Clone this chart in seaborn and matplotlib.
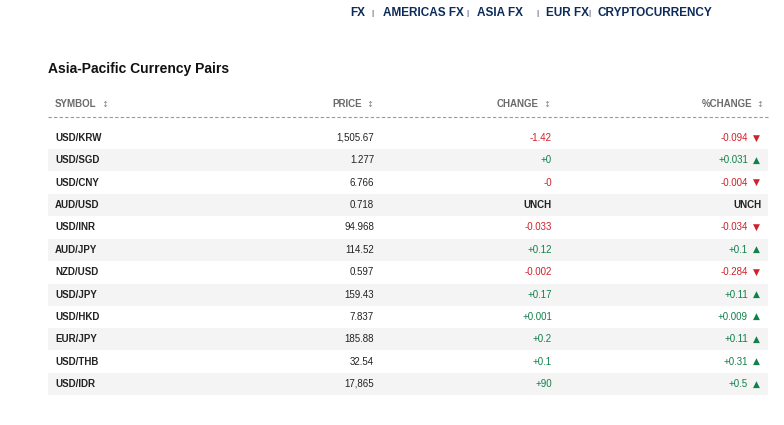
import matplotlib
matplotlib.use("Agg")
import matplotlib.pyplot as plt
import seaborn as sns

sns.set_theme(style="white")
plt.rcParams['font.family'] = ['Liberation Sans', 'DejaVu Sans']

symbols = ["USD/KRW","USD/SGD","USD/CNY","AUD/USD","USD/INR","AUD/JPY","NZD/USD","USD/JPY","USD/HKD","EUR/JPY","USD/THB","USD/IDR"]
prices = ["1,505.67","1.277","6.766","0.718","94.968","114.52","0.597","159.43","7.837","185.88","32.54","17,865"]
changes = ["-1.42","+0","-0","UNCH","-0.033","+0.12","-0.002","+0.17","+0.001","+0.2","+0.1","+90"]
pct_changes = ["-0.094","+0.031","-0.004","UNCH","-0.034","+0.1","-0.284","+0.11","+0.009","+0.11","+0.31","+0.5"]
nav = ["FX","AMERICAS FX","ASIA FX","EUR FX","CRYPTOCURRENCY"]
headers = ["SYMBOL","PRICE","CHANGE","%CHANGE"]

RED = "#d0202a"; GREEN = "#12804a"; NAVY = "#0c2a5a"; DARK = "#222222"

fig = plt.figure(figsize=(7.84, 4.25), dpi=100)
ax = fig.add_axes([0, 0, 1, 1])
ax.set_xlim(0, 784); ax.set_ylim(425, 0); ax.axis("off")

# nav
navx = [350, 383, 477, 546, 598]
for t, x in zip(nav, navx):
    ax.text(x, 13, t, ha="left", va="center", fontsize=8.5, fontweight="bold", color=NAVY)
for x in [372, 467, 537, 589]:
    ax.text(x, 13, "|", ha="center", va="center", fontsize=6, color=NAVY)

ax.text(48, 69, "Asia-Pacific Currency Pairs", ha="left", va="center", fontsize=10, fontweight="bold", color="#111111")

hx = [55, 362, 539, 752]
ha = ["left", "right", "right", "right"]
for t, x, a in zip(headers, hx, ha):
    ax.text(x, 104, t, ha=a, va="center", fontsize=7, fontweight="bold", color="#6a6a6a")
sx = [101, 366, 543, 756]
for x in sx:
    ax.text(x, 104, "\u2195", ha="left", va="center", fontsize=6, color="#888888", family="DejaVu Sans")
ax.plot([48, 768], [117, 117], ls=(0, (3, 2)), color="#999999", lw=0.8)

y0, dy = 138, 22.36
for i, s in enumerate(symbols):
    y = y0 + i * dy
    if i % 2 == 1:
        ax.add_patch(plt.Rectangle((48, y - 11), 720, 22, color="#f4f4f4", lw=0))
    ax.text(55, y, s, ha="left", va="center", fontsize=7, fontweight="bold", color=DARK)
    ax.text(374, y, prices[i], ha="right", va="center", fontsize=7, color=DARK)
    c = changes[i]
    col = DARK if c == "UNCH" else (RED if c.startswith("-") else GREEN)
    ax.text(552, y, c, ha="right", va="center", fontsize=7, color=col,
            fontweight="bold" if c == "UNCH" else "normal")
    p = pct_changes[i]
    if p == "UNCH":
        ax.text(762, y, p, ha="right", va="center", fontsize=7, fontweight="bold", color=DARK)
    else:
        col = RED if p.startswith("-") else GREEN
        ax.text(748, y, p, ha="right", va="center", fontsize=7, color=col)
        ax.text(756, y, "\u25bc" if p.startswith("-") else "\u25b2", ha="center", va="center",
                fontsize=6.5, color=col, family="DejaVu Sans")

fig.savefig("out.png", dpi=100)
